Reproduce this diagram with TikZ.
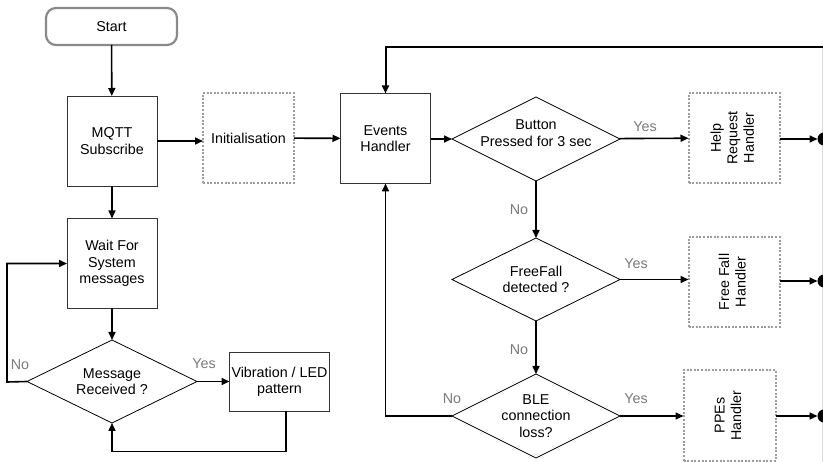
\documentclass[tikz,border=0pt]{standalone}
\usepackage{fontspec}
\setmainfont{Liberation Sans}
\usetikzlibrary{shapes.geometric,arrows.meta}
\definecolor{boxline}{HTML}{333333}
\definecolor{dotline}{HTML}{9C9C9C}
\definecolor{startline}{HTML}{8A8A8A}
\definecolor{labelgray}{HTML}{7A7A7A}
\begin{document}
\begin{tikzpicture}[x=1pt,y=-1pt,
  font=\fontsize{14.3}{16.5}\selectfont,
  every node/.style={outer sep=0pt, align=center},
  startbox/.style={draw=startline, line width=2.2pt, rounded corners=10pt,
    minimum width=131pt, minimum height=37pt},
  proc/.style={draw=boxline, line width=0.9pt, minimum width=90pt,
    minimum height=90pt, inner sep=2pt},
  dotbox/.style={draw=dotline, line width=2pt, dash pattern=on 2pt off 1.6pt,
    minimum width=91pt, minimum height=90pt, inner sep=2pt},
  decision/.style={diamond, aspect=2, draw=black, line width=0.8pt, inner sep=-4pt,
    minimum width=168pt, minimum height=84pt},
  endpoint/.style={circle, fill=black, minimum size=13pt, inner sep=0pt},
  lbl/.style={text=labelgray, inner sep=0pt},
  arr/.style={line width=1.6pt, -{Triangle[length=8pt,width=7pt]}},
]
\useasboundingbox (0,0) rectangle (823,462);
\fill[white] (0,0) rectangle (823,462);

% faint frame edge on the right
\draw[black!15, line width=0.8pt] (822.4,47) -- (822.4,462);

% ---- left column: start, subscribe, messaging loop ----
\node[startbox] (start) at (111.5,26.5) {Start};
\node[proc] (mqtt) at (112,141) {MQTT\\Subscribe};
\node[proc] (wait) at (112,263.5) {Wait For\\System\\messages};
\node[decision, minimum width=170pt, minimum height=83pt] (msg) at (112,381.5) {Message\\Received ?};
\node[proc, minimum width=100pt, minimum height=59pt] (vib) at (279.5,382) {Vibration / LED\\pattern};

% ---- initialisation and event dispatcher ----
\node[dotbox] (init) at (248.5,138) {Initialisation};
\node[proc] (events) at (385.5,138.5) {Events\\Handler};

% ---- decisions (button text sits a little above centre) ----
\node[decision, text depth=12pt, inner sep=-9pt] (btn) at (536,139) {Button\\Pressed for 3 sec};
\node[decision, minimum height=83pt] (ff) at (536,279.5) {FreeFall\\detected ?};
\node[decision] (ble) at (536,416) {BLE\\connection\\loss?};

% ---- handlers ----
\node[dotbox] (help) at (734,138) {\rotatebox{90}{\begin{tabular}{@{}c@{}}Help\\Request\\Handler\end{tabular}}};
\node[dotbox] (ffh) at (734,282) {\rotatebox{90}{\begin{tabular}{@{}c@{}}Free Fall\\Handler\end{tabular}}};
\node[dotbox, minimum height=91pt, minimum width=92pt] (ppe) at (729.5,415.5) {\rotatebox{90}{\begin{tabular}{@{}c@{}}PPEs\\Handler\end{tabular}}};

% ---- end points ----
\node[endpoint] (d1) at (824,139) {};
\node[endpoint] (d2) at (824,281) {};
\node[endpoint] (d3) at (824,416) {};

% ---- branch labels ----
\node[lbl] (yes1) at (645,127) {Yes};
\node[lbl] (no1) at (519,210) {No};
\node[lbl] (yes2) at (636,264) {Yes};
\node[lbl] (no2) at (519,350) {No};
\node[lbl] (no3) at (452,399) {No};
\node[lbl] (yes3) at (636,399) {Yes};
\node[lbl] (no4) at (20,365) {No};
\node[lbl] (yes4) at (204,364) {Yes};

% ---- loop corners ----
\coordinate (topright) at (823,47);
\coordinate (noleft) at (7,382);

% ---- connectors ----
\draw[arr] (start) -- (mqtt);
\draw[arr] (mqtt.east) -- (mqtt.east -| init.west);
\draw[arr] (init) -- (events);
\draw[arr] (events.east |- btn) -- (btn.west);
\draw[arr] (btn) -- (help);
\draw[arr] (help.east |- d1) -- (d1);
\draw[arr] (btn) -- (ff);
\draw[arr] (ff.east) -- (ff.east -| ffh.west);
\draw[arr] (ffh.east |- d2) -- (d2);
\draw[arr] (ff) -- (ble);
\draw[arr] (ble) -- (ble -| ppe.west);
\draw[arr] (ppe.east |- d3) -- (d3);
\draw[arr] (ble.west) -- (ble.west -| events) -- (events.south);
\draw[arr, line width=2pt] (topright) -- (topright -| events) -- (events.north);

\draw[arr] (mqtt) -- (wait);
\draw[arr] (wait) -- (msg);
\draw[arr] (msg) -- (msg -| vib.west);
\draw[arr] (msg.west) -- (noleft) |- (wait.west);
\draw[arr] ([xshift=6.5pt]vib.south) -- ++(0,40) -| (msg.south);
\end{tikzpicture}
\end{document}
